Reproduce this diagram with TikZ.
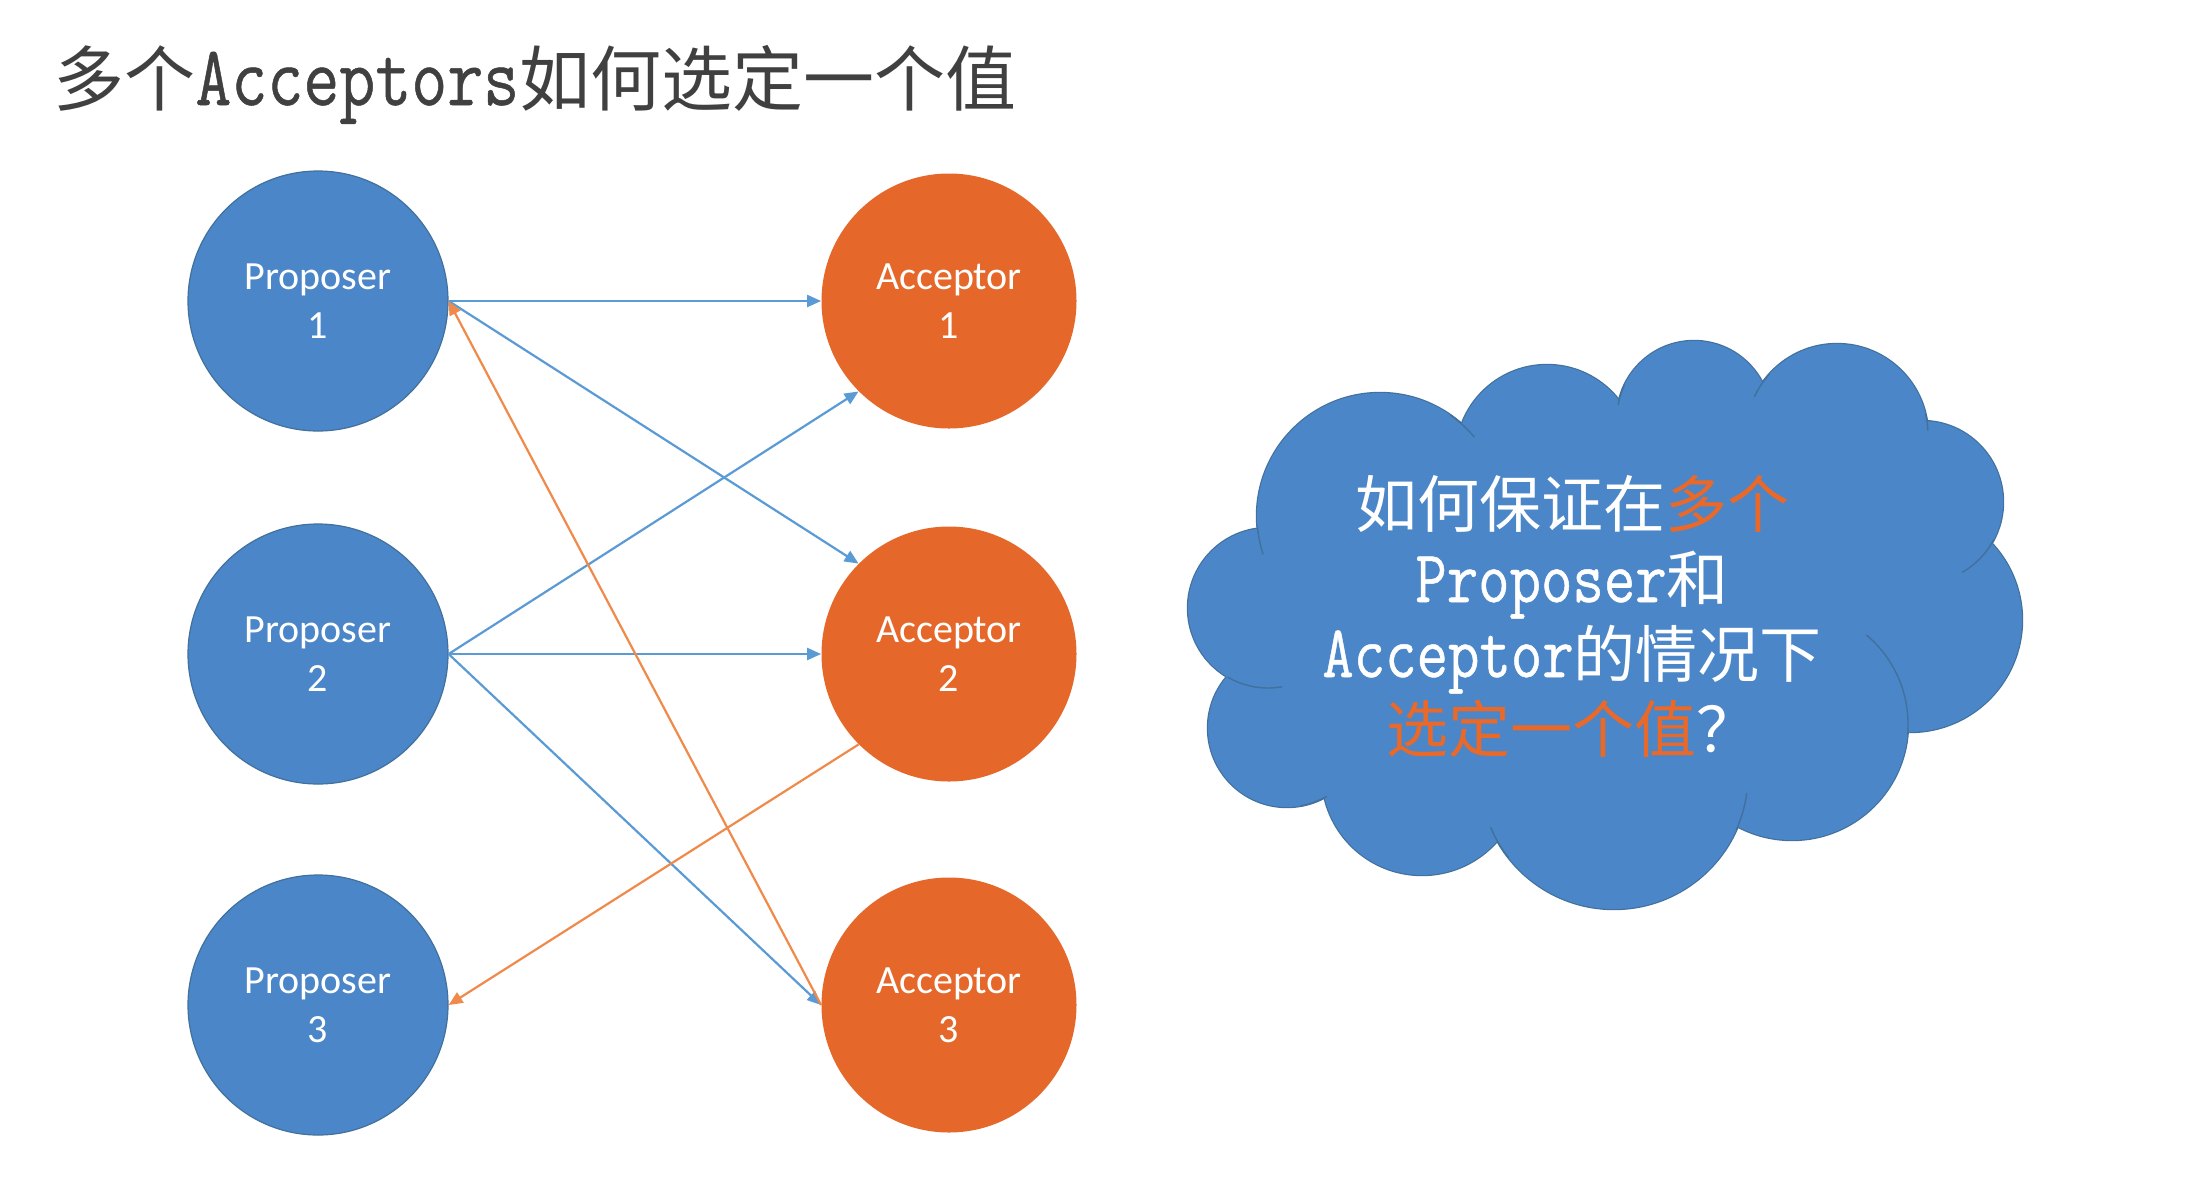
\documentclass[tikz,border=0pt]{standalone}
\usepackage{fontspec}
\setmainfont{Carlito}
\newfontfamily\cjk{Noto Sans CJK SC}
\newfontfamily\monolat[Scale=1.2,FakeStretch=0.82,FakeBold=0.6]{Latin Modern Mono}
\usetikzlibrary{arrows.meta}
\definecolor{pblue}{HTML}{4A86C8}
\definecolor{pedge}{HTML}{41719C}
\definecolor{aorange}{HTML}{E5682A}
\definecolor{lblue}{HTML}{5B9BD5}
\definecolor{lorange}{HTML}{F08A4B}
\definecolor{titlegray}{HTML}{404040}
\definecolor{torange}{HTML}{E8692A}
\newcommand\lat[1]{{\monolat #1}}
\newcommand\zh[1]{{\cjk #1}}
\tikzset{
  proposer/.style={circle, fill=pblue, draw=pedge, line width=0.6pt, minimum size=130pt, inner sep=0pt,
    text=white, align=center, font=\fontsize{20pt}{24.5pt}\selectfont},
  acceptor/.style={circle, fill=aorange, minimum size=127.5pt, inner sep=0pt,
    text=white, align=center, font=\fontsize{20pt}{24.5pt}\selectfont},
  barrow/.style={draw=lblue, line width=1.1pt, -{Triangle[length=7pt,width=6pt]}},
  oarrow/.style={draw=lorange, line width=1.1pt, -{Triangle[length=7pt,width=6pt]}},
  cloudpart/.style={fill=pblue, draw=pedge, line width=1.2pt},
  stubline/.style={draw=pedge, line width=0.7pt, line cap=round},
}
\begin{document}
\begin{tikzpicture}[x=0.5pt,y=-0.5pt]
\useasboundingbox (0,0) rectangle (2186,1190);
\fill[white] (0,0) rectangle (2186,1190);

% title
\node[anchor=base west, inner sep=0pt, text=titlegray, font=\fontsize{35.5pt}{40pt}\selectfont] (title) at (53,105)
  {\zh{多个}\lat{Acceptors}\zh{如何选定一个值}};

% nodes
\node[proposer] (P1) at (318,301) {Proposer\\1};
\node[proposer] (P2) at (318,654) {Proposer\\2};
\node[proposer] (P3) at (318,1005) {Proposer\\3};
\node[acceptor] (A1) at (949,301) {Acceptor\\1};
\node[acceptor] (A2) at (949,654) {Acceptor\\2};
\node[acceptor] (A3) at (949,1005) {Acceptor\\3};

% connectors
\draw[barrow] (P1.east) -- (A1.west);
\draw[barrow] (P1.east) -- (A2.135);
\draw[barrow] (P2.east) -- (A1.225);
\draw[barrow] (P2.east) -- (A2.west);
\draw[barrow] (P2.east) -- (A3.west);
\draw[oarrow] (A3.west) -- (P1.east);
\draw[oarrow] (A2.225) -- (P3.east);

% cloud
\def\bumps{1268/608/80, 1380/516/123, 1547/456/91, 1694/418/77, 1837/435/91,
  1922/502/81, 1910/620/112, 1792/724/116, 1614/775/134, 1422/775/100, 1287/728/79}
\foreach \cx/\cy/\r in \bumps{
  \draw[cloudpart] (\cx,\cy) circle [radius=\r];
}
\foreach \cx/\cy/\r in \bumps{
  \fill[pblue] (\cx,\cy) circle [radius=\r];
}
\fill[pblue] (1603,627) ellipse [x radius=330, y radius=215];
% inner arcs of the cloud
\foreach \cx/\cy/\r/\a/\b in {1380/516/123/-55/-40, 1380/516/123/162/175, 1694/418/77/-170/-155,
  1837/435/91/-155/-138, 1837/435/91/-13/-3, 1922/502/81/28/60, 1268/608/80/80/120,
  1287/728/79/60/80, 1614/775/134/142/157, 1614/775/134/8/24, 1792/724/116/-50/5}{
  \draw[stubline] (\cx,\cy) ++(\a:\r) arc [start angle=\a, end angle=\b, radius=\r];
}

\node[inner sep=0pt, text=white, align=center, font=\fontsize{31pt}{37.5pt}\selectfont] (cloudtext) at (1572,616)
  {\zh{如何保证在}\textcolor{torange}{\zh{多个}}\\
   \lat{Proposer}\zh{和}\\
   \lat{Acceptor}\zh{的情况下}\\
   \textcolor{torange}{\zh{选定一个值}}\zh{？}};
\end{tikzpicture}
\end{document}
